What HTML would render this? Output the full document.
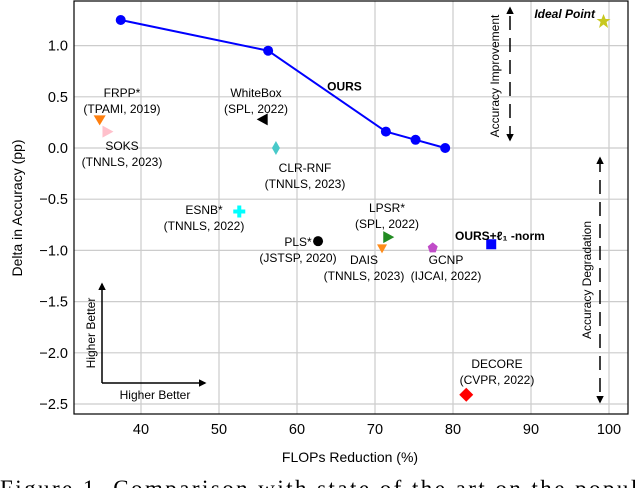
<!DOCTYPE html>
<html><head><meta charset="utf-8"><style>
body{margin:0;background:#fff;width:640px;height:488px;overflow:hidden}
svg{font-family:"Liberation Sans","DejaVu Sans",sans-serif}
</style></head><body>
<svg id="chart" width="640" height="488" viewBox="0 0 640 488">
<defs>
<marker id="ah" viewBox="0 0 10 10" refX="8" refY="5" markerWidth="5" markerHeight="5" orient="auto-start-reverse"><path d="M0,0L10,5L0,10z" fill="#000"/></marker>
</defs>
<g id="grid"></g>
<g id="marks"></g>
<rect x="74" y="1" width="554" height="413" fill="none" stroke="#000" stroke-width="1.2"/>
<g id="ticks"></g>
<text x="350" y="462" font-size="14" text-anchor="middle">FLOPs Reduction (%)</text>
<text transform="translate(22,208) rotate(-90)" font-size="14" text-anchor="middle">Delta in Accuracy (pp)</text>
<line x1="510" y1="140" x2="510" y2="8" stroke="#000" stroke-width="1.5" stroke-dasharray="14,8" marker-start="url(#ah)" marker-end="url(#ah)"/>
<text transform="translate(499,76) rotate(-90)" font-size="12" text-anchor="middle">Accuracy Improvement</text>
<line x1="600" y1="158" x2="600" y2="402" stroke="#000" stroke-width="1.5" stroke-dasharray="14,8" marker-start="url(#ah)" marker-end="url(#ah)"/>
<text transform="translate(591,280) rotate(-90)" font-size="12" text-anchor="middle">Accuracy Degradation</text>
<line x1="102" y1="383" x2="102" y2="284" stroke="#000" stroke-width="1.5" marker-end="url(#ah)"/>
<line x1="102" y1="383" x2="205" y2="383" stroke="#000" stroke-width="1.5" marker-end="url(#ah)"/>
<text transform="translate(95,333) rotate(-90)" font-size="12" text-anchor="middle">Higher Better</text>
<text x="155" y="399" font-size="12" text-anchor="middle">Higher Better</text>
<text x="0" y="496" font-size="23" textLength="660" lengthAdjust="spacing" font-family="Liberation Serif,serif">Figure 1. Comparison with state of the art on the popular</text>
</svg>
<script>
const xTicks=[40,50,60,70,80,90,100];
const yTicks=[1.0,0.5,0.0,-0.5,-1.0,-1.5,-2.0,-2.5];
const yTickLabels=["1.0","0.5","0.0","\u22120.5","\u22121.0","\u22121.5","\u22122.0","\u22122.5"];
const oursX=[37.4,56.3,71.4,75.2,79.0];
const oursY=[1.25,0.95,0.16,0.08,0.0];
const methodNames=["FRPP*","SOKS","WhiteBox","CLR-RNF","ESNB*","PLS*","LPSR*","DAIS","GCNP","OURS+l1","DECORE","Ideal Point"];
const methodX=[34.7,35.7,55.6,57.3,52.6,62.7,71.7,70.9,77.4,84.9,81.7,99.3];
const methodY=[0.27,0.16,0.28,0.0,-0.62,-0.91,-0.87,-0.98,-0.97,-0.94,-2.41,1.24];
const sx=v=>141+(v-40)*7.8;
const sy=v=>148-v*102.4;
const NS="http://www.w3.org/2000/svg";
function mk(tag,attrs,parent,txt){const e=document.createElementNS(NS,tag);for(const k in attrs)e.setAttribute(k,attrs[k]);if(txt!==undefined)e.textContent=txt;parent.appendChild(e);return e;}
const grid=document.getElementById('grid'),ticks=document.getElementById('ticks'),marks=document.getElementById('marks');
xTicks.forEach(t=>{
 const g=mk('line',{x1:sx(t),x2:sx(t),y1:1,y2:414,stroke:'#ccc','stroke-width':1.2},grid);
 
 
 const l=mk('text',{x:sx(t),y:434,'font-size':14.5,'text-anchor':'middle'},ticks,String(t));
 
 
});
yTicks.forEach((t,i)=>{
 const g=mk('line',{x1:74,x2:628,y1:sy(t),y2:sy(t),stroke:'#ccc','stroke-width':1.2},grid);
 
 
 const l=mk('text',{x:68,y:sy(t)+5,'font-size':14.5,'text-anchor':'end'},ticks,yTickLabels[i]);
 
 
});
const line=mk('polyline',{points:oursX.map((x,i)=>sx(x)+','+sy(oursY[i])).join(' '),fill:'none',stroke:'#00f','stroke-width':2},marks);


oursX.forEach((x,i)=>{
 const c=mk('circle',{cx:sx(x),cy:sy(oursY[i]),r:5,fill:'#00f'},marks);
 
 
});
const olab=mk('text',{x:sx(oursX[1])+59,y:sy(oursY[1])+40,'font-size':12,'font-weight':'bold'},marks,'OURS');


const shapes={
 'FRPP*':(x,y)=>['path',{d:`M${x-6},${y-5}L${x+6},${y-5}L${x},${y+5}z`,fill:'#ff7f0e'}],
 'SOKS':(x,y)=>['path',{d:`M${x-5},${y-6}L${x+6},${y}L${x-5},${y+6}z`,fill:'#ffc0cb'}],
 'WhiteBox':(x,y)=>['path',{d:`M${x+5},${y-6}L${x-6},${y}L${x+5},${y+6}z`,fill:'#000'}],
 'CLR-RNF':(x,y)=>['path',{d:`M${x},${y-7}L${x+4},${y}L${x},${y+7}L${x-4},${y}z`,fill:'#48c9c9'}],
 'ESNB*':(x,y)=>['path',{d:`M${x-2},${y-6}h4v4h4v4h-4v4h-4v-4h-4v-4h4z`,fill:'#0ff'}],
 'PLS*':(x,y)=>['circle',{cx:x,cy:y,r:5,fill:'#000'}],
 'LPSR*':(x,y)=>['path',{d:`M${x-5},${y-6}L${x+6},${y}L${x-5},${y+6}z`,fill:'#228b22'}],
 'DAIS':(x,y)=>['path',{d:`M${x-5},${y-4}L${x+5},${y-4}L${x},${y+5}z`,fill:'#ff8c1a'}],
 'GCNP':(x,y)=>['path',{d:`M${x},${y-5}L${x+5},${y-1}L${x+3},${y+5}L${x-3},${y+5}L${x-5},${y-1}z`,fill:'#c04cc8'}],
 'OURS+l1':(x,y)=>['rect',{x:x-5,y:y-5,width:10,height:10,fill:'#00f'}],
 'DECORE':(x,y)=>['path',{d:`M${x},${y-7}L${x+7},${y}L${x},${y+7}L${x-7},${y}z`,fill:'#f00'}],
 'Ideal Point':(x,y)=>['path',{d:`M${x},${y-7}L${x+2},${y-2}L${x+7},${y-2}L${x+3},${y+1}L${x+4.5},${y+7}L${x},${y+3.5}L${x-4.5},${y+7}L${x-3},${y+1}L${x-7},${y-2}L${x-2},${y-2}z`,fill:'#c8c820'}]
};
const labels={
 'FRPP*':[[122,97,'FRPP*'],[122,113,'(TPAMI, 2019)']],
 'SOKS':[[122,150,'SOKS'],[122,166,'(TNNLS, 2023)']],
 'WhiteBox':[[256,97,'WhiteBox'],[256,113,'(SPL, 2022)']],
 'CLR-RNF':[[305,172,'CLR-RNF'],[305,188,'(TNNLS, 2023)']],
 'ESNB*':[[204,214,'ESNB*'],[204,230,'(TNNLS, 2022)']],
 'PLS*':[[298,246,'PLS*'],[298,262,'(JSTSP, 2020)']],
 'LPSR*':[[387,212,'LPSR*'],[387,228,'(SPL, 2022)']],
 'DAIS':[[364,264,'DAIS'],[364,280,'(TNNLS, 2023)']],
 'GCNP':[[446,264,'GCNP'],[446,280,'(IJCAI, 2022)']],
 'DECORE':[[497,368,'DECORE'],[497,384,'(CVPR, 2022)']]
};
methodNames.forEach((n,i)=>{
 const [tag,at]=shapes[n](sx(methodX[i]),sy(methodY[i]));
 const m=mk(tag,at,marks);
 
 
 (labels[n]||[]).forEach(([x,y,t])=>{
  const l=mk('text',{x:x,y:y,'font-size':12,'text-anchor':'middle'},marks,t);
  
  
 });
});
const l1=mk('text',{x:455,y:240,'font-size':12,'font-weight':'bold'},marks,'OURS+\u2113\u2081 -norm');


const ip=mk('text',{x:595,y:18,'font-size':12,'font-weight':'bold','font-style':'italic','text-anchor':'end'},marks,'Ideal Point');


</script>
</body></html>
